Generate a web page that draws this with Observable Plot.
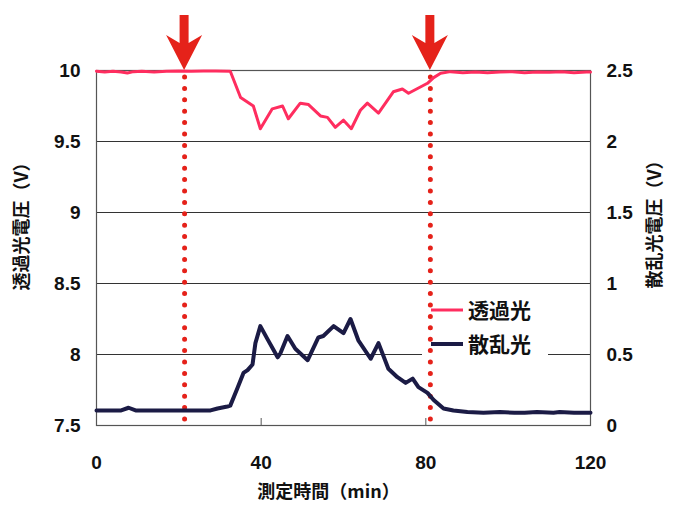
<!DOCTYPE html>
<html><head><meta charset="utf-8">
<script src="https://cdn.jsdelivr.net/npm/d3@7"></script>
<script src="https://cdn.jsdelivr.net/npm/@observablehq/plot@0.6"></script>
<style>body{margin:0;background:#fff}</style>
</head><body><div id="chart"></div>
<script>
// ---- data ----
const transTime = [0,2,4,6,7.5,9,11,14,17,20,23,26,29,32.5,35,38.1,39.8,42.7,45.2,46.6,49.5,51.5,54.4,56.1,58,60,61.9,64.1,65.8,68.5,72.1,74.3,75.8,80.4,81.9,83.6,86,89,92,95,98,101,104,107,110,113,116,119,120];
const transVolt = [9.995,9.99,9.995,9.99,9.982,9.992,9.995,9.99,9.995,9.996,9.995,9.997,9.996,9.995,9.81,9.75,9.59,9.73,9.75,9.66,9.77,9.76,9.68,9.67,9.60,9.65,9.59,9.72,9.77,9.70,9.85,9.87,9.84,9.91,9.95,9.98,9.992,9.985,9.99,9.985,9.99,9.992,9.985,9.99,9.988,9.992,9.985,9.99,9.99];
const scatTime = [0,3,6,7.8,9.5,12,16,20,24,27.7,29.4,31.8,32.5,34.2,35.7,36.7,37.9,38.6,39.8,41.5,44.0,44.7,46.4,48.3,51.3,53.9,55.1,57.6,60.0,61.7,63.6,66.6,68.5,70.9,73.1,75.1,76.8,78.2,80.4,81.9,84.3,86.7,90.1,94,98,101.5,104,107,111,112.5,116,120];
const scatVolt = [0.106,0.106,0.106,0.125,0.106,0.106,0.106,0.106,0.106,0.106,0.12,0.134,0.14,0.26,0.37,0.39,0.43,0.58,0.70,0.61,0.48,0.51,0.63,0.54,0.46,0.62,0.63,0.70,0.65,0.75,0.60,0.47,0.58,0.40,0.34,0.30,0.33,0.27,0.23,0.18,0.12,0.106,0.095,0.09,0.095,0.09,0.09,0.095,0.09,0.095,0.09,0.09];
const markerTimes = [21.4, 81.1];
const xTicks = [0, 40, 80, 120];
const leftTicks = [7.5, 8, 8.5, 9, 9.5, 10];
const rightTicks = [0, 0.5, 1, 1.5, 2, 2.5];
const seriesNames = ["透過光", "散乱光"];
const xLabel = "測定時間（min）";
const leftLabel = "透過光電圧（V）";
const rightLabel = "散乱光電圧（V）";

// ---- styles ----
const RED = "#ff2d5f", NAVY = "#1b1b45", MARK = "#e5221a";
const NUM_FONT = "'Liberation Sans', Arial, sans-serif";
const JP_FONT = "'Noto Sans CJK JP', sans-serif";

const leftDomain = [leftTicks[0], leftTicks[leftTicks.length - 1]];
const rightDomain = [rightTicks[0], rightTicks[rightTicks.length - 1]];
const offset = leftDomain[0] - rightDomain[0]; // right axis mapped onto left scale

const trans = transTime.map((t, i) => ({t, v: transVolt[i]}));
const scat = scatTime.map((t, i) => ({t, v: scatVolt[i]}));

function legendMark(index, scales, values, dims) {
  const g = d3.create("svg:g");
  const right = dims.width - dims.marginRight;
  const top = dims.marginTop;
  const bx = right - 168, by = top + 220;
  g.append("rect").attr("x", bx).attr("y", by).attr("width", 126).attr("height", 74).attr("fill", "#fff");
  const rows = [{name: seriesNames[0], c: RED, w: 3, y: by + 20}, {name: seriesNames[1], c: NAVY, w: 4, y: by + 54}];
  for (const r of rows) {
    g.append("path").attr("d", `M${bx + 9},${r.y}H${bx + 41}`)
      .attr("fill", "none").attr("stroke", r.c).attr("stroke-width", r.w);
    g.append("text").attr("x", bx + 46).attr("y", r.y).attr("dy", "0.36em")
      .attr("text-anchor", "start")
      .attr("font-family", JP_FONT).attr("font-weight", "bold").attr("font-size", 21)
      .attr("fill", "#111").text(r.name);
  }
  return g.node();
}

function arrowMark(index, scales, values, dims) {
  const g = d3.create("svg:g");
  const tipY = scales.y(leftDomain[1]);
  for (const t of markerTimes) {
    const cx = scales.x(t);
    g.append("path")
      .attr("transform", `translate(${cx},${tipY})`)
      .attr("d", "M-4.5,-55L4.5,-55L4.5,-27L18,-35L0,0L-18,-35L-4.5,-27Z")
      .attr("fill", MARK);
  }
  return g.node();
}

const chart = Plot.plot({
  width: 675,
  height: 510,
  marginLeft: 96,
  marginRight: 85,
  marginTop: 70,
  marginBottom: 85,
  style: {fontFamily: NUM_FONT, fontSize: "19px", fontWeight: "bold", color: "#111", background: "#fff"},
  x: {domain: [xTicks[0], xTicks[xTicks.length - 1]]},
  y: {domain: leftDomain},
  marks: [
    Plot.ruleY(leftTicks.slice(1, -1), {stroke: "#333", strokeWidth: 1}),
    Plot.frame({stroke: "#555", strokeWidth: 1.2}),
    Plot.ruleX(xTicks, {x: d => d, insetTop: 348, stroke: "#555"}),
    Plot.axisX(xTicks, {tickSize: 0, tickPadding: 30, label: null, fontSize: 19, fontWeight: "bold"}),
    Plot.axisY(leftTicks, {anchor: "left", tickSize: 0, tickPadding: 16, label: null, fontSize: 19, fontWeight: "bold",
      tickFormat: d => String(d)}),
    Plot.axisY(rightTicks.map(d => d + offset), {anchor: "right", tickSize: 0, tickPadding: 16, label: null,
      fontSize: 19, fontWeight: "bold", tickFormat: d => String(Math.round((d - offset) * 10) / 10)}),
    Plot.text([leftLabel], {frameAnchor: "left", textAnchor: "middle", dx: -74, dy: -26, rotate: -90, fontSize: 18, fontWeight: "bold", fontFamily: JP_FONT, fill: "#111"}),
    Plot.text([rightLabel], {frameAnchor: "right", textAnchor: "middle", dx: 65, dy: -28, rotate: -90, fontSize: 18, fontWeight: "bold", fontFamily: JP_FONT, fill: "#111"}),
    Plot.text([xLabel], {frameAnchor: "bottom", textAnchor: "middle", dy: 72, dx: -15, fontSize: 18, fontWeight: "bold", fontFamily: JP_FONT, fill: "#111"}),
    legendMark,
    Plot.ruleX(markerTimes, {x: d => d, y1: leftDomain[1], y2: leftDomain[0], stroke: MARK, strokeWidth: 5,
      strokeDasharray: "0 11.4", strokeDashoffset: -7, strokeLinecap: "round"}),
    Plot.line(trans, {x: "t", y: "v", stroke: RED, strokeWidth: 3, curve: "linear"}),
    Plot.line(scat, {x: "t", y: d => d.v + offset, stroke: NAVY, strokeWidth: 4, curve: "linear"}),
    arrowMark
  ]
});
document.getElementById("chart").appendChild(chart);
</script>
</body></html>
